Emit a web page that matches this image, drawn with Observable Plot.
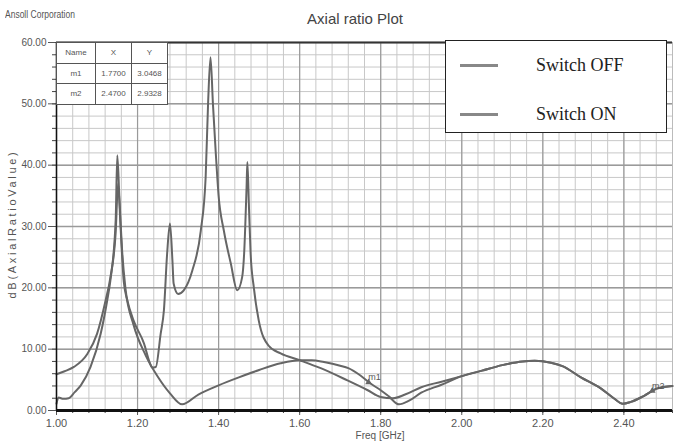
<!DOCTYPE html>
<html>
<head>
<meta charset="utf-8">
<script src="https://cdn.jsdelivr.net/npm/d3@7"></script>
<script src="https://cdn.jsdelivr.net/npm/@observablehq/plot@0.6"></script>
<style>
  html, body { margin: 0; padding: 0; background: #fff; }
  #wrap { position: relative; width: 680px; height: 444px; overflow: hidden; font-family: "Liberation Sans Narrow", "Liberation Sans", Arial, sans-serif; }
  #wrap svg { position: absolute; left: 0; top: 0; }
  .ov { position: absolute; color: #444; white-space: nowrap; }
  #corp { left: 5px; top: 9px; font-size: 10px; color: #555; transform: scaleX(0.85); transform-origin: left; }
  #title { left: 0; width: 710px; top: 10px; text-align: center; font-size: 15px; color: #444; }
  #ylab { left: 12px; top: 224px; font-size: 11px; letter-spacing: 2.7px; color: #555; transform: translate(-50%, -50%) rotate(-90deg); }
  #xlab { left: 380px; top: 430px; font-size: 10px; color: #555; transform: translateX(-50%); }
  #mtable { position: absolute; left: 56px; top: 42px; border-collapse: collapse; background: #fff; font-size: 8px; color: #555; }
  #mtable td { border: 1.5px solid #555; width: 35px; height: 19.5px; text-align: center; padding: 0; }
  #mtable td:first-child { width: 38px; }
  #legend { position: absolute; left: 445px; top: 40px; width: 220px; height: 91px; border: 1.5px solid #222; background: #fff; font-family: "Liberation Serif", "Times New Roman", serif; font-size: 18px; color: #222; }
  .lrow { position: absolute; left: 0; height: 24px; display: flex; align-items: center; }
  .lline { width: 38px; height: 3px; background: #888; margin-left: 14px; margin-right: 38px; }
</style>
</head>
<body>
<div id="wrap"></div>
<script>
// ---- data ----
const seriesNames = ["Switch OFF", "Switch ON"];

const freqOff = [1.000,1.005,1.017,1.030,1.045,1.060,1.084,1.109,1.125,1.133,1.146,1.150,1.155,1.162,1.170,1.190,1.220,1.250,1.280,1.310,1.350,1.400,1.450,1.500,1.553,1.600,1.630,1.660,1.700,1.720,1.750,1.775,1.800,1.820,1.845,1.870,1.900,1.950,2.000,2.050,2.100,2.150,2.180,2.220,2.250,2.294,2.343,2.375,2.397,2.417,2.450,2.483,2.520];
const dbOff   = [1.1,2.1,1.9,2.0,3.0,4.1,7.1,12.5,17.9,21.2,31.0,41.6,35.0,26.0,20.0,14.0,9.0,5.5,2.8,1.0,2.6,4.1,5.4,6.6,7.7,8.2,8.2,7.9,7.3,6.9,5.7,4.4,3.3,2.3,1.0,1.6,2.9,4.2,5.6,6.5,7.4,8.0,8.1,7.8,7.2,5.4,3.6,2.0,1.1,1.4,2.4,3.6,4.0];

const freqOn = [1.000,1.020,1.043,1.076,1.100,1.121,1.133,1.146,1.152,1.158,1.166,1.175,1.190,1.216,1.230,1.236,1.245,1.257,1.265,1.273,1.280,1.286,1.289,1.300,1.314,1.335,1.356,1.368,1.374,1.380,1.386,1.393,1.400,1.413,1.430,1.446,1.458,1.463,1.469,1.471,1.475,1.479,1.487,1.499,1.523,1.553,1.600,1.652,1.718,1.768,1.800,1.830,1.860,1.900,1.950,2.000,2.050,2.100,2.150,2.180,2.220,2.250,2.294,2.343,2.375,2.397,2.417,2.450,2.483,2.520];
const dbOn   = [5.9,6.4,7.1,9.2,12.5,17.9,21.7,29.0,37.0,30.0,21.0,17.9,14.7,10.9,7.8,7.0,7.1,12.5,16.3,25.6,30.5,24.5,20.7,19.0,19.6,22.8,29.3,38.0,50.0,57.6,50.0,42.0,35.0,29.3,24.0,19.6,21.7,25.6,36.4,40.5,33.0,25.6,20.0,14.7,10.6,9.3,8.2,6.9,4.9,3.3,2.2,2.0,2.6,3.8,4.7,5.6,6.5,7.4,8.0,8.1,7.8,7.2,5.4,3.6,2.0,1.1,1.4,2.4,3.6,4.0];

const markerNames = ["m1", "m2"];
const markerX = [1.77, 2.47];
const markerY = [3.0468, 2.9328];
const markerPlotY = [4.6, 3.2];   // where the marker sits on the drawn curve

const xTicks = [1.00, 1.20, 1.40, 1.60, 1.80, 2.00, 2.20, 2.40];
const yTicks = [0, 10, 20, 30, 40, 50, 60];
const titleText = "Axial ratio Plot";
const corpText = "Ansoll Corporation";
const xLabel = "Freq [GHz]";
const yLabel = "dB(AxialRatioValue)";

// ---- build ----
const off = freqOff.map((f, i) => ({f, v: dbOff[i]}));
const on = freqOn.map((f, i) => ({f, v: dbOn[i]}));
const markers = markerNames.map((n, i) => ({n, f: markerX[i], v: markerPlotY[i]}));
const xMinor = d3.range(1, 2.5201, 0.04);
const yMinor = d3.range(0, 60.01, 2);

const chart = Plot.plot({
  width: 680, height: 444,
  marginLeft: 56, marginRight: 8, marginTop: 42, marginBottom: 34,
  style: { background: "transparent", fontFamily: "'Liberation Sans Narrow', 'Liberation Sans', sans-serif", fontSize: "10px", color: "#555" },
  x: { domain: [1, 2.52] },
  y: { domain: [0, 60] },
  marks: [
    Plot.gridX(xMinor, { stroke: "#c8c8c8", strokeOpacity: 1, strokeWidth: 1 }),
    Plot.gridY(yMinor, { stroke: "#c8c8c8", strokeOpacity: 1, strokeWidth: 1 }),
    Plot.gridX(xTicks, { stroke: "#9a9a9a", strokeOpacity: 1, strokeWidth: 1.2 }),
    Plot.gridY(yTicks, { stroke: "#9a9a9a", strokeOpacity: 1, strokeWidth: 1.5 }),
    Plot.axisX(xMinor, { tickSize: 3, text: null, label: null, stroke: "#444" }),
    Plot.axisX(xTicks, { tickSize: 5, tickFormat: d3.format(".2f"), label: null, fontSize: 11, fill: "#555", tickPadding: 4 }),
    Plot.axisY(yMinor, { tickSize: 4, text: null, label: null, stroke: "#444" }),
    Plot.axisY(yTicks, { tickSize: 8, tickFormat: d3.format(".2f"), label: null, fontSize: 10, fill: "#555", tickPadding: 2 }),
    Plot.ruleY([60], { stroke: "#333", strokeWidth: 2 }),
    Plot.ruleX([2.52], { stroke: "#bbb", strokeWidth: 1 }),
    Plot.line(on, { x: "f", y: "v", stroke: "#666", strokeWidth: 2, curve: "monotone-x" }),
    Plot.line(off, { x: "f", y: "v", stroke: "#666", strokeWidth: 2, curve: "monotone-x" }),
    Plot.dot(markers, { x: "f", y: "v", symbol: "triangle", r: 2.5, fill: "#666", stroke: "none" }),
    Plot.text(markers, { x: "f", y: "v", text: "n", dx: 6, dy: -5, fontSize: 9, fill: "#555" }),
    Plot.ruleY([0], { stroke: "#111", strokeWidth: 3 }),
    Plot.ruleX([1], { stroke: "#111", strokeWidth: 1.5 })
  ]
});

const wrap = document.getElementById("wrap");
wrap.appendChild(chart);

function ov(id, text) {
  const d = document.createElement("div");
  d.className = "ov"; d.id = id; d.textContent = text;
  wrap.appendChild(d);
}
ov("corp", corpText);
ov("title", titleText);
ov("ylab", yLabel);
ov("xlab", xLabel);

// marker table
const tbl = document.createElement("table");
tbl.id = "mtable";
const rows = [["Name", "X", "Y"]].concat(markerNames.map((n, i) => [n, markerX[i].toFixed(4), markerY[i].toFixed(4)]));
rows.forEach(r => {
  const tr = document.createElement("tr");
  r.forEach(c => { const td = document.createElement("td"); td.textContent = c; tr.appendChild(td); });
  tbl.appendChild(tr);
});
wrap.appendChild(tbl);

// legend
const lg = document.createElement("div");
lg.id = "legend";
seriesNames.forEach((s, i) => {
  const row = document.createElement("div");
  row.className = "lrow";
  row.style.top = (12 + i * 49) + "px";
  const ln = document.createElement("div"); ln.className = "lline";
  const tx = document.createElement("span"); tx.textContent = s;
  row.appendChild(ln); row.appendChild(tx);
  lg.appendChild(row);
});
wrap.appendChild(lg);
</script>
</body>
</html>
